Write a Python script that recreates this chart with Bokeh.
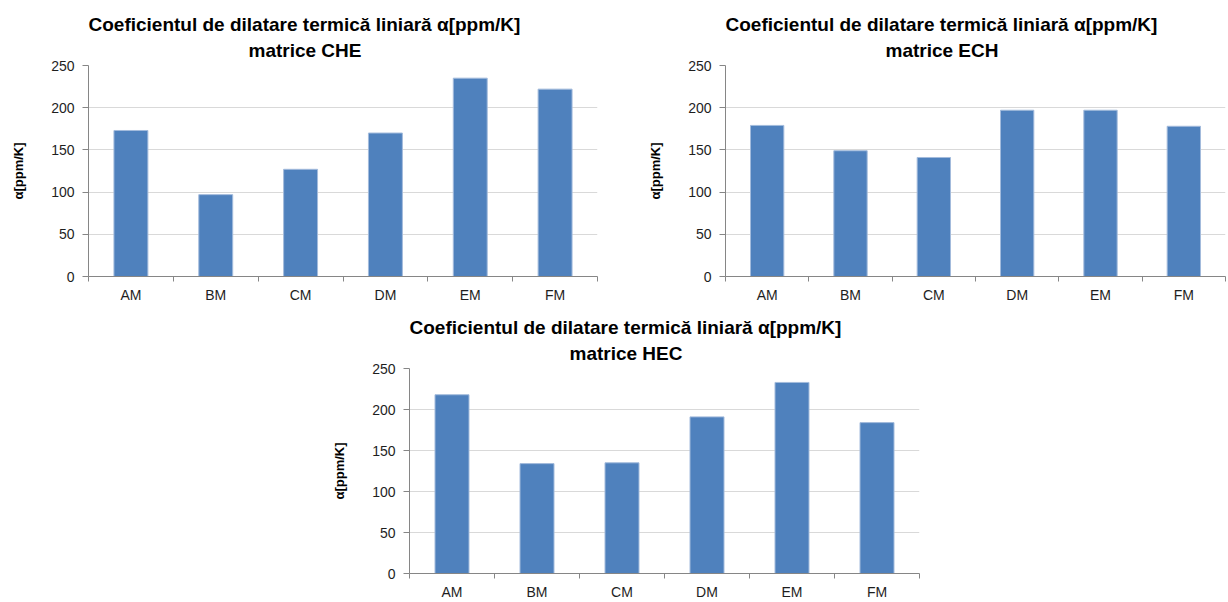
from bokeh.plotting import figure
from bokeh.models import FixedTicker, Range1d, Spacer, Title
from bokeh.layouts import column, row
from bokeh.embed import file_html
from bokeh.resources import INLINE

categories = ["AM", "BM", "CM", "DM", "EM", "FM"]
che_values = [173, 97, 127, 170, 235, 222]
ech_values = [179, 149, 141, 197, 197, 178]
hec_values = [218, 134, 135, 191, 233, 184]
y_ticks = [0, 50, 100, 150, 200, 250]
title_main = "Coeficientul de dilatare termică liniară α[ppm/K]"
subtitles = ["matrice CHE", "matrice ECH", "matrice HEC"]
y_label = "α[ppm/K]"

FONT = "Liberation Sans"
BAR = "#4f81bd"
AXIS = "#868686"
GRID = "#d9d9d9"
TXT = "#1e1e1e"


def make(vals, subtitle, fw, fh, bl, br, bt, bb):
    n = len(categories)
    p = figure(frame_width=fw, frame_height=fh, title=None,
               x_range=Range1d(0, n), y_range=Range1d(0, y_ticks[-1]),
               output_backend="svg", toolbar_location=None,
               min_border_left=bl, min_border_right=br,
               min_border_top=bt, min_border_bottom=bb)
    sub = Title(text=subtitle, align="left", offset=160, standoff=10,
                text_font=FONT, text_font_size="19px",
                text_font_style="bold", text_color="black")
    main = Title(text=title_main, align="left", offset=0, standoff=-4,
                 text_font=FONT, text_font_size="19px",
                 text_font_style="bold", text_color="black")
    p.add_layout(sub, "above")
    p.add_layout(main, "above")
    p.outline_line_color = None
    p.background_fill_color = "white"
    p.border_fill_color = "white"

    xs = [i + 0.5 for i in range(n)]
    p.vbar(x=xs, top=vals, bottom=0, width=0.4,
           fill_color=BAR, line_color="#a3bbdc", line_width=1)

    xa = p.xaxis[0]
    xa.ticker = FixedTicker(ticks=xs, minor_ticks=list(range(n + 1)))
    xa.major_label_overrides = {x: c for x, c in zip(xs, categories)}
    xa.major_tick_line_color = None
    xa.major_tick_out = 0
    xa.major_tick_in = 0
    xa.minor_tick_line_color = AXIS
    xa.minor_tick_out = 5
    xa.minor_tick_in = 0
    xa.axis_line_color = AXIS
    xa.major_label_text_font = FONT
    xa.major_label_text_font_size = "14px"
    xa.major_label_text_color = TXT
    xa.major_label_standoff = 5

    ya = p.yaxis[0]
    ya.ticker = FixedTicker(ticks=y_ticks)
    ya.axis_line_color = AXIS
    ya.major_tick_line_color = AXIS
    ya.major_tick_out = 6
    ya.major_tick_in = 0
    ya.minor_tick_line_color = None
    ya.major_label_text_font = FONT
    ya.major_label_text_font_size = "14px"
    ya.major_label_text_color = TXT
    ya.major_label_standoff = 8
    ya.axis_label = y_label
    ya.axis_label_text_font = FONT
    ya.axis_label_text_font_size = "13px"
    ya.axis_label_text_font_style = "bold"
    ya.axis_label_text_color = "black"
    ya.axis_label_standoff = 22

    p.xgrid.visible = False
    p.ygrid.ticker = FixedTicker(ticks=y_ticks)
    p.ygrid.grid_line_color = GRID
    return p


p1 = make(che_values, subtitles[0], 509, 211, 88, 48, 65, 34)
p2 = make(ech_values, subtitles[1], 500, 211, 80, 2, 65, 34)
p3 = make(hec_values, subtitles[2], 510, 205, 80, 2, 58, 24)

layout = column(row(p1, p2), row(Spacer(width=329, height=10), p3))

open("out.html", "w").write(file_html(layout, INLINE))
